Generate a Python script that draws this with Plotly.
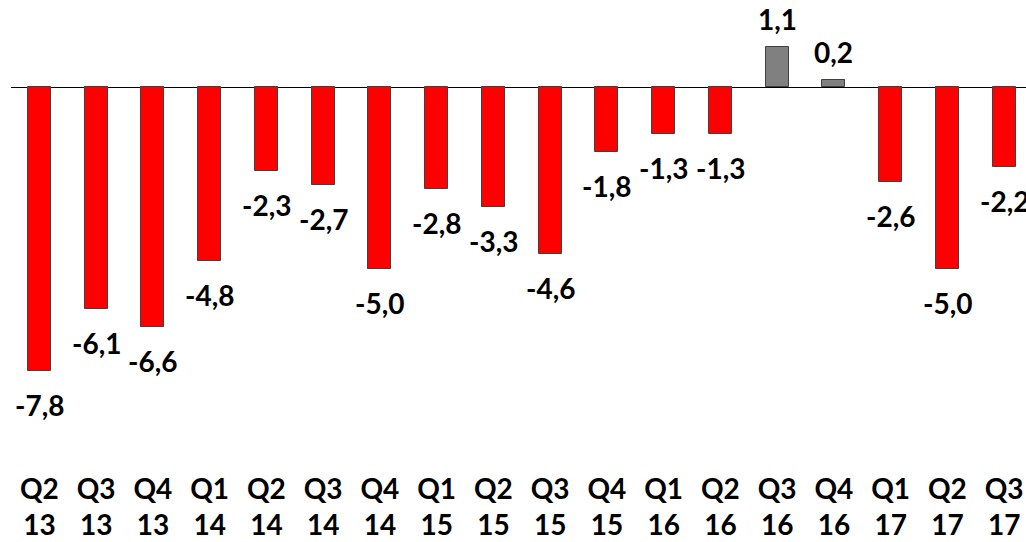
import plotly.graph_objects as go

quarters = ["Q2", "Q3", "Q4", "Q1", "Q2", "Q3", "Q4", "Q1", "Q2", "Q3", "Q4", "Q1", "Q2", "Q3", "Q4", "Q1", "Q2", "Q3"]
years = ["13", "13", "13", "14", "14", "14", "14", "15", "15", "15", "15", "16", "16", "16", "16", "17", "17", "17"]
values = [-7.8, -6.1, -6.6, -4.8, -2.3, -2.7, -5.0, -2.8, -3.3, -4.6, -1.8, -1.3, -1.3, 1.1, 0.2, -2.6, -5.0, -2.2]

categories = [f"{q}<br>{y}" for q, y in zip(quarters, years)]
labels = [f"{v:.1f}".replace(".", ",") for v in values]
colors = ["#FF0000" if v < 0 else "#808080" for v in values]

FONT = "Lato"
PLOT_H = 542 - 74
ZERO_PX = 87
PX_PER_UNIT = 36.35

fig = go.Figure()
fig.add_trace(go.Bar(
    x=list(range(len(values))),
    y=values,
    width=0.405,
    marker=dict(color=colors, line=dict(color="#404040", width=1)),
    hoverinfo="skip",
))

for i, (v, t) in enumerate(zip(values, labels)):
    fig.add_annotation(
        x=i, y=v, text=f"<b>{t}</b>", showarrow=False,
        yanchor="top" if v < 0 else "bottom",
        yshift=-15 if v < 0 else 9,
        font=dict(family=FONT, size=28, color="#000000"),
    )

fig.update_layout(
    width=1026, height=542,
    margin=dict(l=11, r=0, t=0, b=72),
    paper_bgcolor="white", plot_bgcolor="white",
    showlegend=False,
    bargap=0,
    xaxis=dict(
        range=[-0.5, 17.385],
        tickmode="array",
        tickvals=list(range(len(values))),
        ticktext=[f"<b>{c}</b>" for c in categories],
        tickfont=dict(family=FONT, size=28, color="#000000"),
        showgrid=False, zeroline=False, showline=False, ticks="",
        automargin=False,
    ),
    yaxis=dict(
        range=[-(542 - 72 - ZERO_PX) / PX_PER_UNIT, ZERO_PX / PX_PER_UNIT],
        showgrid=False, showticklabels=False, showline=False, ticks="",
        zeroline=True, zerolinecolor="#000000", zerolinewidth=1,
    ),
)

fig.write_html(
    "out.html",
    config={"displayModeBar": False},
    post_script="document.body.style.margin='0';document.body.style.overflow='hidden';",
)
